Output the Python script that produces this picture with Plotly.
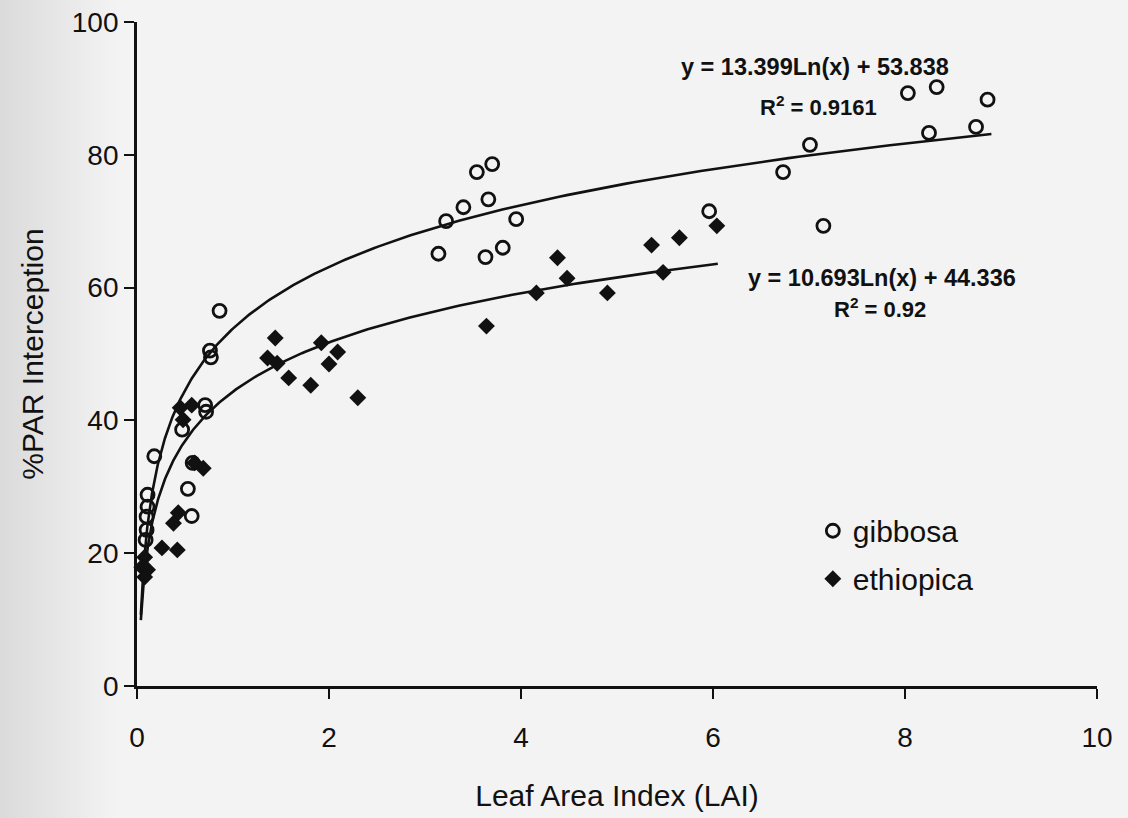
import numpy as np
import plotly.graph_objects as go

# Leaf area index vs. %PAR interception, two species
gibbosa_lai = [8.03, 8.33, 8.86, 8.74, 8.25, 7.01, 6.73, 7.15, 5.96,
               3.54, 3.70, 3.66, 3.40, 3.22, 3.95, 3.14, 3.63, 3.81,
               0.86, 0.76, 0.77, 0.71, 0.72, 0.47, 0.18, 0.58, 0.53, 0.57,
               0.11, 0.11, 0.10, 0.10, 0.09]
gibbosa_par = [89.3, 90.2, 88.3, 84.2, 83.3, 81.5, 77.4, 69.3, 71.5,
               77.4, 78.6, 73.3, 72.1, 70.0, 70.3, 65.1, 64.6, 66.0,
               56.5, 50.5, 49.5, 42.3, 41.3, 38.6, 34.6, 33.6, 29.7, 25.6,
               28.8, 27.0, 25.5, 23.5, 22.0]

ethiopica_lai = [4.38, 4.48, 4.16, 4.90, 5.36, 5.65, 6.04, 5.48, 3.64,
                 1.44, 1.36, 1.46, 1.58, 1.81, 1.92, 2.09, 2.00, 2.30,
                 0.45, 0.57, 0.48, 0.60, 0.69, 0.43, 0.38, 0.26, 0.42,
                 0.08, 0.05, 0.11, 0.08]
ethiopica_par = [64.5, 61.4, 59.2, 59.2, 66.4, 67.5, 69.3, 62.3, 54.2,
                 52.4, 49.4, 48.6, 46.4, 45.3, 51.7, 50.3, 48.5, 43.4,
                 41.9, 42.3, 40.1, 33.6, 32.8, 26.1, 24.5, 20.8, 20.5,
                 19.4, 17.9, 17.5, 16.4]

# Logarithmic fits y = a*ln(x) + b
gibbosa_fit = {"a": 13.399, "b": 53.838, "r2": "0.9161", "lai_range": (0.04, 8.9)}
ethiopica_fit = {"a": 10.693, "b": 44.336, "r2": "0.92", "lai_range": (0.04, 6.05)}

x_ticks = [0, 2, 4, 6, 8, 10]
y_ticks = [0, 20, 40, 60, 80, 100]

FONT = "Liberation Sans, Arial, sans-serif"
INK = "#111111"


def fit_curve(fit):
    x = np.geomspace(fit["lai_range"][0], fit["lai_range"][1], 300)
    return x, fit["a"] * np.log(x) + fit["b"]


fig = go.Figure()

for fit in (gibbosa_fit, ethiopica_fit):
    fx, fy = fit_curve(fit)
    fig.add_trace(go.Scatter(x=fx, y=fy, mode="lines", showlegend=False,
                             line=dict(color=INK, width=2.6),
                             cliponaxis=False, hoverinfo="skip"))

fig.add_trace(go.Scatter(
    x=gibbosa_lai, y=gibbosa_par, mode="markers", name="gibbosa",
    legendgroup="g",
    marker=dict(symbol="circle-open", size=13, color=INK,
                line=dict(width=2.8, color=INK)),
    cliponaxis=False))

fig.add_trace(go.Scatter(
    x=ethiopica_lai, y=ethiopica_par, mode="markers", name="ethiopica",
    legendgroup="e",
    marker=dict(symbol="diamond", size=13, color=INK,
                line=dict(width=0)),
    cliponaxis=False))


def eq_text(fit):
    return f"<b>y = {fit['a']:.3f}Ln(x) + {fit['b']:.3f}</b>"


def r2_text(fit):
    return f"<b>R<sup>2</sup> = {fit['r2']}</b>"


annotations = [
    dict(x=7.06, y=93.2, text=eq_text(gibbosa_fit), size=23.5),
    dict(x=7.1, y=87.4, text=r2_text(gibbosa_fit), size=22),
    dict(x=7.76, y=61.4, text=eq_text(ethiopica_fit), size=23.5),
    dict(x=7.74, y=57.0, text=r2_text(ethiopica_fit), size=22),
]
for a in annotations:
    size = a.pop("size")
    a.update(xref="x", yref="y", showarrow=False,
             font=dict(family=FONT, size=size, color=INK),
             xanchor="center", yanchor="middle")

# soft grey shading of the paper toward the left edge
shapes = []
steps = 24
for i in range(steps):
    px_right = 115 * (1 - i / steps)
    shapes.append(dict(type="rect", xref="paper", yref="paper", layer="below",
                       x0=-0.2, x1=(px_right - 137) / 960, y0=-0.25, y1=1.05,
                       fillcolor="black", opacity=0.0045, line=dict(width=0)))

fig.update_layout(
    width=1128, height=818,
    margin=dict(l=137, r=31, t=22, b=132),
    paper_bgcolor="#f3f3f3", plot_bgcolor="rgba(0,0,0,0)",
    font=dict(family=FONT, color=INK),
    annotations=annotations,
    shapes=shapes,
    legend=dict(x=0.704, y=0.273, xanchor="left", yanchor="top",
                bgcolor="rgba(0,0,0,0)", font=dict(size=30, family=FONT, color=INK),
                itemsizing="trace", tracegroupgap=6, traceorder="grouped"),
    xaxis=dict(range=[0, 10], tickvals=x_ticks, showgrid=False, zeroline=False,
               showline=True, linecolor=INK, linewidth=2.8, automargin=False,
               ticks="outside", ticklen=10, tickwidth=2, tickcolor=INK,
               ticklabelstandoff=14,
               tickfont=dict(size=28, family=FONT, color=INK),
               title=dict(text="Leaf Area Index (LAI)", standoff=34,
                          font=dict(size=30, family=FONT, color=INK))),
    yaxis=dict(range=[0, 100], tickvals=y_ticks, showgrid=False, zeroline=False,
               showline=True, linecolor=INK, linewidth=2.8, automargin=False,
               ticks="outside", ticklen=10, tickwidth=2, tickcolor=INK,
               tickfont=dict(size=28, family=FONT, color=INK),
               title=dict(text="%PAR Interception", standoff=20,
                          font=dict(size=30, family=FONT, color=INK))),
)

fig.write_html("out.html")
